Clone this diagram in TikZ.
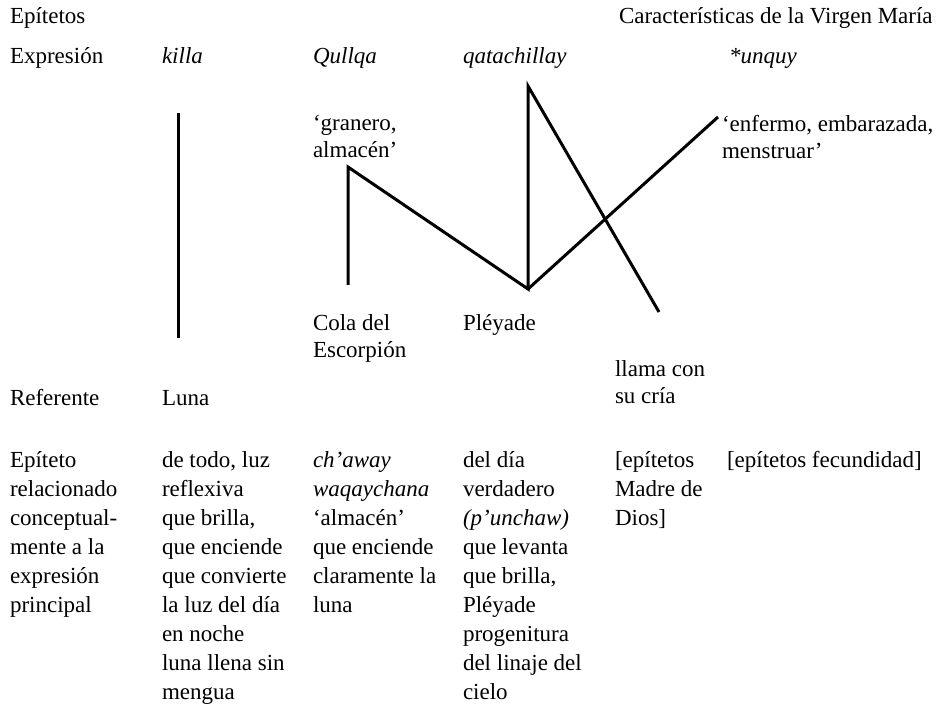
\documentclass[tikz,border=0pt]{standalone}
\usepackage{fontspec}
\setmainfont{Liberation Serif}
\newcommand\mlines[2]{\vtop{\baselineskip=#1\relax\lineskiplimit=-100pt\halign{##\hfil\cr#2\crcr}}}
\begin{document}
\begin{tikzpicture}[x=1pt,y=-1pt,
  txt/.style={anchor=base west,inner sep=0pt,outer sep=0pt,font=\fontsize{23}{28}\selectfont},
  link/.style={line width=3pt,line join=miter}]
\useasboundingbox (0,0) rectangle (942,708);
% header rows
\node[txt] (lEp) at (10,24) {Epítetos};
\node[txt] (lCar) at (619,24) {Características de la Virgen María};
\node[txt] (lExp) at (10,64) {Expresión};
\node[txt] (eKilla) at (162,64) {\textit{killa}};
\node[txt] (eQullqa) at (313,64) {\textit{Qullqa}};
\node[txt] (eQata) at (463,64) {\textit{qatachillay}};
\node[txt] (eUnquy) at (729,64) {\textit{*unquy}};
% meanings
\node[txt] (gGran) at (313,131) {\mlines{27pt}{‘granero,\cr almacén’}};
\node[txt] (gEnf) at (722,132) {\mlines{27pt}{‘enfermo, embarazada,\cr menstruar’}};
% referents
\node[txt] (rCola) at (313,331) {\mlines{27pt}{Cola del\cr Escorpión}};
\node[txt] (rPley) at (463,331) {Pléyade};
\node[txt] (rLlama) at (615,376) {\mlines{28pt}{llama con\cr su cría}};
\node[txt] (lRef) at (10,405) {Referente};
\node[txt] (rLuna) at (162,405) {Luna};
% related epithets
\node[txt] (lEpi) at (10,467) {\mlines{29pt}{Epíteto\cr relacionado\cr conceptual-\cr mente a la\cr expresión\cr principal}};
\node[txt] (bKilla) at (162,467) {\mlines{29pt}{de todo, luz\cr reflexiva\cr que brilla,\cr que enciende\cr que convierte\cr la luz del día\cr en noche\cr luna llena sin\cr mengua}};
\node[txt] (bQullqa) at (313,467) {\mlines{29pt}{\textit{ch’away}\cr \textit{waqaychana}\cr ‘almacén’\cr que enciende\cr claramente la\cr luna}};
\node[txt] (bQata) at (463,467) {\mlines{29pt}{del día\cr verdadero\cr \textit{(p’unchaw)}\cr que levanta\cr que brilla,\cr Pléyade\cr progenitura\cr del linaje del\cr cielo}};
\node[txt] (bMadre) at (615,467) {\mlines{29pt}{[epítetos\cr Madre de\cr Dios]}};
\node[txt] (bFec) at (727,467) {[epítetos fecundidad]};
% connector points
\coordinate (k1) at (178,113);
\coordinate (k2) at (178,338);
\coordinate (q1) at (348,285);
\coordinate (q2) at (348,167);
\coordinate (pp) at (528,289);
\coordinate (qt) at (528,86);
\coordinate (ll) at (659,312);
\coordinate (en) at (718,117);
\draw[link] (k1) -- (k2);
\draw[link] (q1) -- (q2) -- (pp) -- (qt) -- (ll);
\draw[link] (pp) -- (en);
\end{tikzpicture}
\end{document}
